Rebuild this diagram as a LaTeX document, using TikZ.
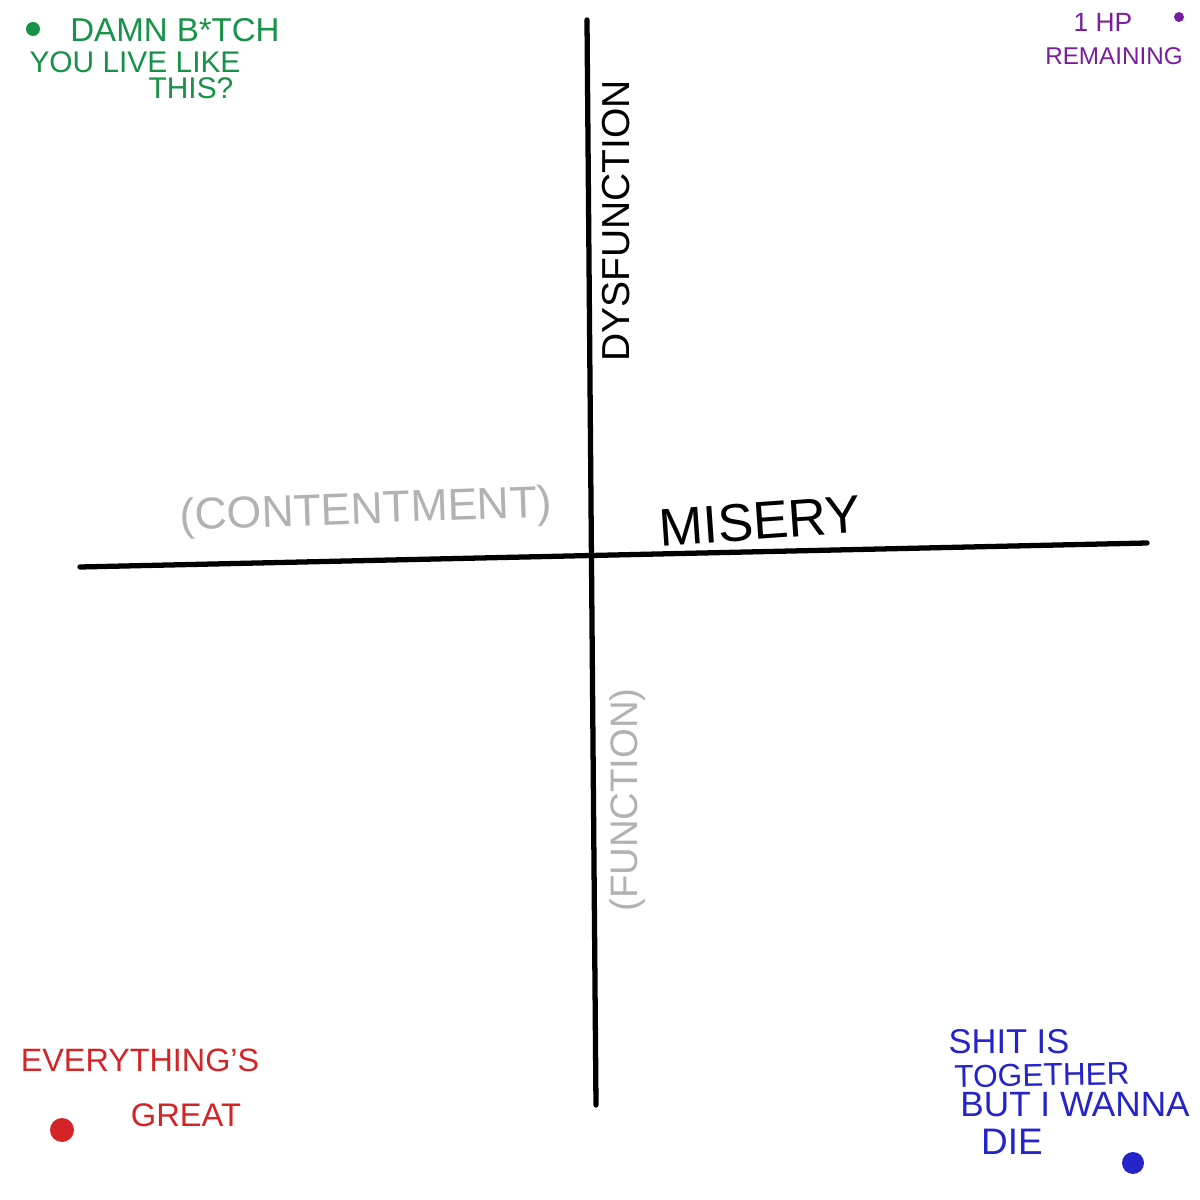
\documentclass[tikz,border=0pt]{standalone}
\usepackage{fontspec}
\setmainfont{Liberation Sans}
\usepackage{xcolor}
\usetikzlibrary{positioning}

\definecolor{inkgreen}{RGB}{24,146,72}
\definecolor{inkpurple}{RGB}{122,30,160}
\definecolor{inkred}{RGB}{212,36,40}
\definecolor{inkblue}{RGB}{36,36,200}
\definecolor{inkgray}{RGB}{178,178,178}

\begin{document}
\begin{tikzpicture}[
axis/.style={draw=black, line width=1.5pt, line cap=round},
lbl/.style={inner sep=0pt, anchor=center},
dot/.style={circle, inner sep=0pt},
]
\fill[white] (0,0) rectangle (12,12);
\useasboundingbox (0,0) rectangle (12,12);

% axes
\coordinate (xl) at (0.80,6.33);
\coordinate (xr) at (11.47,6.57);
\coordinate (yt) at (5.87,11.80);
\coordinate (yb) at (5.96,0.95);
\draw[axis] (xl) -- (xr);
\draw[axis] (yt) -- (yb);

% axis labels
\node[lbl, rotate=90, font=\fontsize{11.1}{13}\selectfont](dys) at (6.16,9.79){DYSFUNCTION};
\node[lbl, rotate=90, text=inkgray, font=\fontsize{10.9}{13}\selectfont](func) at (6.28,4.00){(FUNCTION)};
\node[lbl, rotate=2, text=inkgray, font=\fontsize{12.7}{15}\selectfont](cont) at (3.66,6.88){(CONTENTMENT)};
\node[lbl, rotate=4, font=\fontsize{15.1}{18}\selectfont](mis) at (7.60,6.79){MISERY};

% top left
\node[dot, fill=inkgreen, minimum size=1.4mm](gdot) at (0.33,11.71){};
\node[lbl, text=inkgreen, font=\fontsize{9.4}{11}\selectfont](damn) at (1.75,11.70){DAMN B*TCH};
\node[lbl, text=inkgreen, font=\fontsize{8.5}{10}\selectfont](live) at (1.35,11.38){YOU LIVE LIKE};
\node[lbl, text=inkgreen, font=\fontsize{8.5}{10}\selectfont](this) at (1.91,11.12){THIS?};

% top right
\node[lbl, text=inkpurple, font=\fontsize{7.5}{9}\selectfont](hp) at (11.03,11.78){1 HP};
\node[dot, fill=inkpurple, minimum size=1.0mm](pdot) at (11.79,11.83){};
\node[lbl, text=inkpurple, font=\fontsize{6.9}{8}\selectfont](rem) at (11.14,11.44){REMAINING};

% bottom left
\node[lbl, text=inkred, font=\fontsize{9.2}{11}\selectfont](every) at (1.40,1.40){EVERYTHING'S};
\node[lbl, text=inkred, font=\fontsize{9.3}{11}\selectfont](great) at (1.86,0.85){GREAT};
\node[dot, fill=inkred, minimum size=2.4mm](rdot) at (0.62,0.70){};

% bottom right
\node[lbl, text=inkblue, font=\fontsize{9.8}{12}\selectfont](shit) at (10.09,1.58){SHIT IS};
\node[lbl, text=inkblue, font=\fontsize{9}{11}\selectfont, rotate=1](tog) at (10.42,1.25){TOGETHER};
\node[lbl, text=inkblue, font=\fontsize{10}{12}\selectfont](but) at (10.75,0.95){BUT I WANNA};
\node[lbl, text=inkblue, font=\fontsize{10.5}{12}\selectfont](die) at (10.12,0.58){DIE};
\node[dot, fill=inkblue, minimum size=2.2mm](bdot) at (11.33,0.37){};

\end{tikzpicture}
\end{document}
